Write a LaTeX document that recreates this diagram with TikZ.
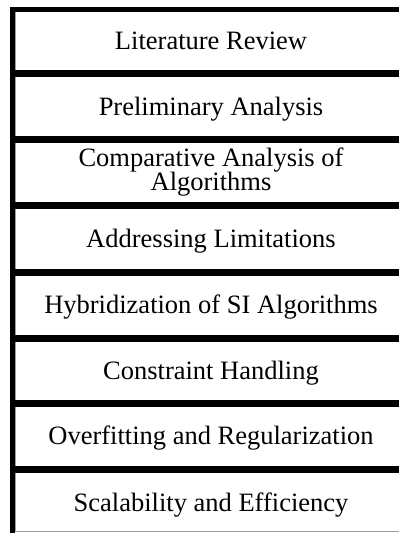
\documentclass[tikz,border=0pt]{standalone}
\usepackage{fontspec}
\setmainfont{Liberation Serif}

\newlength{\du}
\setlength{\du}{1pt}

\definecolor{dialinecolor}{rgb}{0.000000, 0.000000, 0.000000}
\definecolor{edgegray}{rgb}{0.620000, 0.620000, 0.620000}

\tikzset{
  stagebox/.style={draw=edgegray, line width=1\du, fill=white},
  topbar/.style={draw=dialinecolor, line width=7\du},
  stagelabel/.style={font=\fontsize{26.5}{24.5}\selectfont, inner sep=0pt,
    text height=17.5\du, text depth=0pt},
  twolinelabel/.style={font=\fontsize{26.5}{24.5}\selectfont, inner sep=0pt,
    align=center},
}

\begin{document}
\begin{tikzpicture}[yscale=-1]
\clip (0\du,0\du) rectangle (399\du,533\du);
\fill[white] (0\du,0\du) rectangle (399\du,533\du);
% stage boxes, top to bottom
\draw[stagebox] (15\du,9.5\du) rectangle (410\du,73.5\du);
\draw[stagebox] (15\du,73.5\du) rectangle (410\du,139.5\du);
\draw[stagebox] (15\du,139.5\du) rectangle (410\du,205\du);
\draw[stagebox] (15\du,205\du) rectangle (410\du,272\du);
\draw[stagebox] (15\du,272\du) rectangle (410\du,338\du);
\draw[stagebox] (15\du,338\du) rectangle (410\du,403\du);
\draw[stagebox] (15\du,403\du) rectangle (410\du,469.5\du);
\draw[stagebox] (15\du,469.5\du) rectangle (410\du,531.5\du);
% heavy top edges
\draw[topbar, line width=5\du] (10\du,9.5\du)--(410\du,9.5\du);
\draw[topbar] (10\du,73.5\du)--(410\du,73.5\du);
\draw[topbar] (10\du,139.5\du)--(410\du,139.5\du);
\draw[topbar] (10\du,205\du)--(410\du,205\du);
\draw[topbar] (10\du,272\du)--(410\du,272\du);
\draw[topbar] (10\du,338\du)--(410\du,338\du);
\draw[topbar] (10\du,403\du)--(410\du,403\du);
\draw[topbar] (10\du,469.5\du)--(410\du,469.5\du);
% left rail
\draw[draw=dialinecolor, line width=5\du] (12.5\du,7\du)--(12.5\du,533\du);
% labels
\node[stagelabel] (litreview) at (211\du,41\du){Literature Review};
\node[stagelabel] (prelim) at (211\du,106.5\du){Preliminary Analysis};
% base sits on the second line here
\node[twolinelabel, anchor=base] (compare) at (211\du,190.5\du){Comparative Analysis of\\Algorithms};
\node[stagelabel] (limits) at (211\du,238.5\du){Addressing Limitations};
\node[stagelabel] (hybrid) at (211\du,305\du){Hybridization of SI Algorithms};
\node[stagelabel] (constraint) at (211\du,370.5\du){Constraint Handling};
\node[stagelabel] (overfit) at (211\du,436\du){Overfitting and Regularization};
\node[stagelabel] (scaling) at (211\du,502.5\du){Scalability and Efficiency};
\end{tikzpicture}
\end{document}
